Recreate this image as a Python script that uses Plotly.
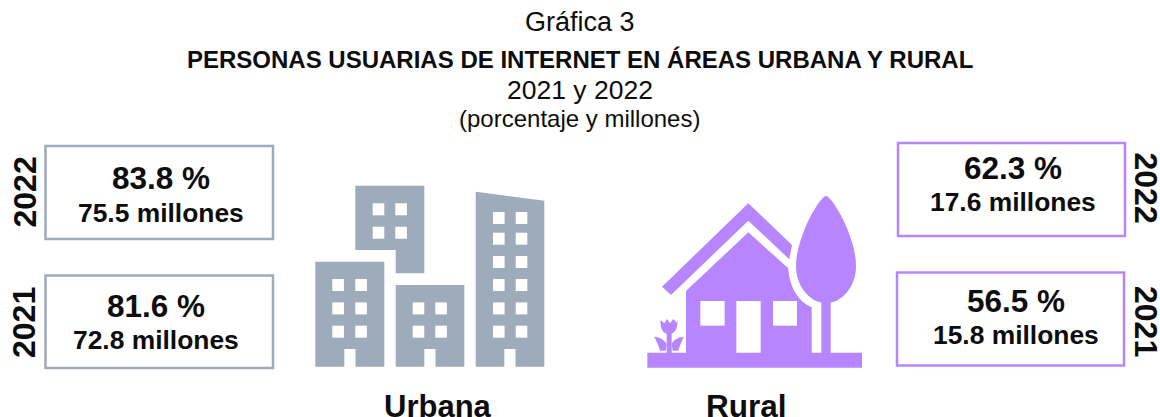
import plotly.graph_objects as go

# ---- data ----
title_lines = ["Gráfica 3", "PERSONAS USUARIAS DE INTERNET EN ÁREAS URBANA Y RURAL", "2021 y 2022", "(porcentaje y millones)"]
areas = ["Urbana", "Rural"]
years = ["2022", "2021"]
urban_pct = [83.8, 81.6]
urban_mill = [75.5, 72.8]
rural_pct = [62.3, 56.5]
rural_mill = [17.6, 15.8]

W, H = 1160, 417
FONT = "Liberation Sans, Arial, sans-serif"
GREY = "#9dabba"
PURPLE = "#b685ff"
BLACK = "#0d0d0d"

shapes = []
ann = []

def rect(x0, y0, x1, y1, fill, line=None, lw=0, layer="above"):
    shapes.append(dict(type="rect", xref="x", yref="y", x0=x0, y0=y0, x1=x1, y1=y1,
                       fillcolor=fill, line=dict(color=line or fill, width=lw), layer=layer))

def path(d, fill):
    shapes.append(dict(type="path", xref="x", yref="y", path=d, fillcolor=fill,
                       line=dict(width=0), layer="above"))

def text(x, y, s, size, bold=False, angle=0):
    ann.append(dict(x=x, y=y, xref="x", yref="y", text=f"<b>{s}</b>" if bold else s,
                    showarrow=False, xanchor="center", yanchor="middle", textangle=angle,
                    font=dict(family=FONT, size=size, color=BLACK)))

# ---- title ----
text(580, 22, title_lines[0], 27)
text(580, 59, title_lines[1], 24, bold=True)
text(580, 90, title_lines[2], 26.5)
text(579, 118, title_lines[3], 24)

# ---- boxes ----
left_boxes = [(45.5, 146, 273, 239), (45.5, 275.5, 273, 368)]
right_boxes = [(898, 143, 1125, 236), (897, 272.5, 1124, 365.5)]
left_pct_xy = [(161, 178), (156, 306)]
left_mill_xy = [(161, 213), (156, 339.5)]
left_year_y = [192.5, 323]
right_pct_xy = [(1013, 168), (1016, 301)]
right_mill_xy = [(1013, 202), (1016, 335)]
right_year_y = [187.5, 321]
for i in range(2):
    x0, y0, x1, y1 = left_boxes[i]
    rect(x0, y0, x1, y1, "white", GREY, 2.5)
    text(*left_pct_xy[i], f"{urban_pct[i]} %", 31.5, bold=True)
    text(*left_mill_xy[i], f"{urban_mill[i]} millones", 26.4, bold=True)
    text(24, left_year_y[i], years[i], 32, bold=True, angle=-90)

    x0, y0, x1, y1 = right_boxes[i]
    rect(x0, y0, x1, y1, "white", PURPLE, 2.5)
    text(*right_pct_xy[i], f"{rural_pct[i]} %", 31.5, bold=True)
    text(*right_mill_xy[i], f"{rural_mill[i]} millones", 26.4, bold=True)
    text(1146, right_year_y[i], years[i], 32, bold=True, angle=90)

# ---- urban icon ----
path("M355.3 185.7 L424.3 185.7 L424.3 273.3 L395.7 273.3 L395.7 250 L355.3 250 Z", GREY)
rect(315.3, 261.7, 384.3, 366.7, GREY)
rect(395.7, 285, 464.3, 366.7, GREY)
path("M475.7 191.7 L544.3 200.7 L544.3 366.7 L475.7 366.7 Z", GREY)
WIN = "white"
for x in (372.7, 395.3):
    for y in (203.3, 226.7):
        rect(x, y, x + 11.6, y + 12, WIN)
for x in (332.3, 355.3, 412.7, 435.3):
    for y in (302.4, 325.7):
        rect(x, y, x + 11.6, y + 12, WIN)
for x in (332.3, 355.3):
    rect(x, 279, x + 11.6, 291, WIN)
for x in (493, 515.7):
    for y in (212, 232.7, 256, 279, 302.4, 325.7):
        rect(x, y, x + 11.6, y + 12, WIN)
for x in (344.3, 424.3, 504.3):
    rect(x, 349, x + 11.2, 367, WIN)

# ---- rural icon ----
def hx(z): return 630 + z / 3
def hy(z): return 180 + z / 3
def P(cmds):
    out = []
    for c in cmds:
        if isinstance(c, str):
            out.append(c)
        else:
            out.append(f"{hx(c[0]):.1f} {hy(c[1]):.1f}")
    return " ".join(out)

rect(hx(52), hy(518), hx(696), hy(563), PURPLE)
# roof
path(P(["M", (355, 70), "L", (486, 195), "L", (478, 238), "L", (355, 122), "L", (123, 345), "L", (96, 320), "Z"]), PURPLE)
# body
path(P(["M", (355, 157), "L", (475, 265), "C", (478, 320), (505, 365), (545, 382), "L", (545, 520), "L", (168, 520), "L", (168, 333), "Z"]), PURPLE)
rect(hx(211), hy(363), hx(284), hy(437), "white")
rect(hx(319), hy(363), hx(392), hy(518), "white")
rect(hx(429), hy(363), hx(501), hy(437), "white")
# tree
path(P(["M", (588, 48), "C", (570, 48), (498, 170), (498, 258), "C", (498, 320), (540, 368), (588, 370),
        "C", (636, 368), (678, 320), (678, 258), "C", (678, 170), (606, 48), (588, 48), "Z"]), PURPLE)
rect(hx(574), hy(360), hx(602), hy(520), PURPLE)
# flower
def fx(z): return 645 + z / 3
def fy(z): return 310 + z / 3
def F(cmds):
    out = []
    for c in cmds:
        out.append(c if isinstance(c, str) else f"{fx(c[0]):.1f} {fy(c[1]):.1f}")
    return " ".join(out)
path(F(["M", (47, 30), "L", (58, 40), "L", (66, 27), "L", (75, 40), "L", (85, 27), "L", (95, 38), "L", (97, 30),
        "C", (99, 55), (90, 72), (72, 73), "C", (54, 72), (44, 55), (47, 30), "Z"]), PURPLE)
rect(fx(65), fy(70), fx(80), fy(130), PURPLE)
path(F(["M", (28, 80), "C", (45, 82), (60, 90), (65, 103), "L", (62, 122), "L", (45, 122), "C", (40, 105), (35, 95), (28, 80), "Z"]), PURPLE)
path(F(["M", (116, 80), "C", (99, 82), (84, 90), (80, 103), "L", (83, 122), "L", (100, 122), "C", (105, 105), (110, 95), (116, 80), "Z"]), PURPLE)

# ---- area labels ----
text(438, 406, areas[0], 31, bold=True)
text(746.5, 406, areas[1], 31.5, bold=True)

fig = go.Figure()
fig.update_layout(
    width=W, height=H, margin=dict(l=0, r=0, t=0, b=0),
    paper_bgcolor="white", plot_bgcolor="white", showlegend=False,
    xaxis=dict(range=[0, W], visible=False, fixedrange=True),
    yaxis=dict(range=[H, 0], visible=False, fixedrange=True),
    shapes=shapes, annotations=ann,
)
fig.write_html("out.html", config={"displayModeBar": False},
               post_script="document.body.style.margin='0';document.body.style.overflow='hidden';")
